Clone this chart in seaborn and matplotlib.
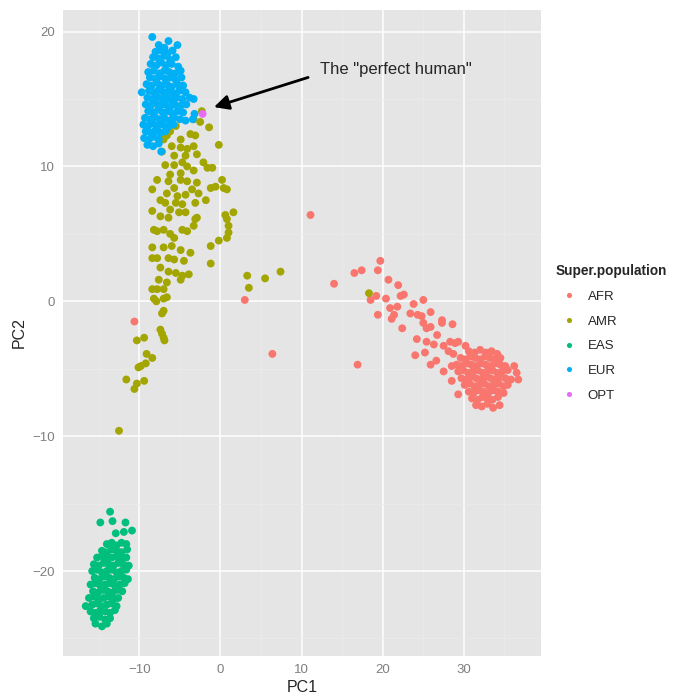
import numpy as np
import pandas as pd
import matplotlib
matplotlib.use("Agg")
import matplotlib.pyplot as plt
from matplotlib.ticker import MultipleLocator
import seaborn as sns

# ---- data (PC1, PC2) ----
afr_points = [
    (-10.6, -1.5), (3.0, 0.1), (6.4, -3.9), (11.1, 6.4), (14.0, 1.3), (16.9, -4.7),
    (16.5, 2.1), (17.4, 2.3), (19.7, 3.0), (19.4, 2.3), (20.7, 1.6), (21.9, 1.2),
    (18.5, 0.1), (19.2, 0.4), (20.4, 0.2), (22.2, 0.4), (22.6, 0.5), (25.0, 0.1),
    (19.4, -1.0), (20.9, -0.5), (21.8, -0.4), (21.4, -1.0), (21.1, -1.3), (23.8, -0.2),
    (23.4, -0.9), (24.3, -1.0), (24.8, -1.1), (25.9, -0.8), (22.4, -2.0), (25.0, -1.6),
    (25.4, -2.0), (25.9, -1.9), (27.3, -1.4), (27.3, -1.6), (28.6, -1.7), (24.2, -2.8),
    (25.4, -3.0), (26.7, -2.5), (26.3, -3.2), (24.0, -4.0), (25.2, -3.8), (25.9, -4.7),
    (26.6, -4.4), (27.5, -3.3), (28.3, -3.0), (28.9, -3.1), (29.3, -3.0), (30.2, -3.3),
    (28.1, -3.7), (28.7, -3.9), (27.5, -5.2), (28.5, -4.8), (28.5, -5.9), (29.3, -6.9),
    (30.6, -3.7), (31.3, -3.8), (32.0, -3.6), (32.7, -3.8), (33.4, -3.7), (34.1, -3.9),
    (29.6, -4.2), (30.2, -4.3), (30.8, -4.1), (31.4, -4.2), (32.0, -4.3), (32.6, -4.1),
    (33.2, -4.2), (33.8, -4.3), (34.5, -4.2),
    (29.1, -4.7), (29.7, -4.8), (30.3, -4.6), (30.9, -4.7), (31.5, -4.8), (32.1, -4.6),
    (32.7, -4.7), (33.3, -4.8), (33.9, -4.6), (34.5, -4.7), (35.1, -4.8),
    (29.3, -5.2), (29.9, -5.1), (30.5, -5.3), (31.1, -5.2), (31.7, -5.1), (32.3, -5.3),
    (32.9, -5.2), (33.5, -5.1), (34.1, -5.3), (34.7, -5.2), (35.4, -5.1),
    (29.7, -5.7), (30.3, -5.8), (30.9, -5.6), (31.5, -5.7), (32.1, -5.8), (32.7, -5.6),
    (33.3, -5.7), (33.9, -5.8), (34.5, -5.6), (35.1, -5.7), (35.8, -5.8),
    (30.1, -6.2), (30.7, -6.1), (31.3, -6.3), (31.9, -6.2), (32.5, -6.1), (33.1, -6.3),
    (33.7, -6.2), (34.3, -6.1), (34.9, -6.3), (35.4, -6.2),
    (30.6, -6.7), (31.2, -6.8), (31.8, -6.6), (32.4, -6.7), (33.0, -6.8), (33.6, -6.6),
    (34.2, -6.7), (34.9, -6.8),
    (31.0, -7.2), (31.7, -7.3), (32.3, -7.1), (32.9, -7.2), (33.5, -7.3), (34.2, -7.1),
    (31.5, -7.7), (32.2, -7.8), (32.9, -7.6), (33.6, -7.9), (34.4, -7.7),
    (36.5, -5.3), (36.2, -4.8), (36.7, -5.8),
]

amr_points = [
    (-2.3, 14.1), (-2.5, 13.3), (-1.4, 12.9), (-3.3, 13.5), (-3.7, 12.4), (-3.1, 12.3),
    (-0.2, 11.6), (-5.5, 13.0), (-6.2, 12.6), (-6.6, 12.3), (-7.0, 12.0), (-4.9, 12.0),
    (-7.2, 11.1), (-6.0, 11.5), (-4.9, 11.4), (-4.1, 11.3), (-3.3, 11.5), (-2.9, 10.9),
    (-5.7, 10.8), (-4.3, 10.8),
    (-6.8, 10.1), (-5.7, 10.1), (-4.7, 10.3), (-4.1, 10.0), (-2.1, 10.3), (-1.6, 9.9),
    (-1.0, 9.9), (-3.3, 9.7), (-4.9, 9.5), (-6.2, 9.4),
    (-7.8, 9.0), (-6.4, 8.9), (-4.9, 9.0), (-4.1, 8.9), (-2.9, 8.8), (0.2, 9.0),
    (0.4, 8.4), (-8.4, 8.3), (-5.7, 8.4), (-3.5, 8.3), (-1.2, 8.4), (-0.6, 8.5), (0.8, 8.3),
    (-6.6, 8.0), (-5.3, 7.8), (-4.3, 7.9), (-2.7, 8.0), (-1.8, 7.5), (-7.4, 7.5),
    (-6.8, 7.3), (-5.5, 7.3), (-4.7, 7.2), (-3.1, 7.3), (-8.4, 6.7), (-6.2, 6.8),
    (-5.1, 6.6), (-4.3, 6.6), (-7.4, 6.3), (-6.4, 6.2), (-2.9, 6.2), (0.6, 6.4),
    (1.6, 6.6), (0.8, 6.1),
    (-8.2, 5.3), (-7.8, 5.2), (-7.0, 5.3), (-6.2, 5.0), (-5.7, 4.7), (-4.7, 5.3),
    (-4.1, 5.2), (-3.3, 5.6), (-3.1, 6.1), (1.0, 5.6), (1.0, 5.1), (0.8, 4.7),
    (-8.4, 4.0), (-7.0, 4.0), (-6.0, 4.1), (-4.9, 3.8), (-3.7, 3.6), (-1.2, 4.1), (-0.2, 4.5),
    (-8.4, 3.2), (-7.8, 3.2), (-6.4, 3.2), (-5.7, 3.1), (-4.5, 3.0), (-1.2, 2.8),
    (-7.4, 2.5), (-6.4, 2.2), (-5.5, 2.1), (-4.7, 1.9), (-3.9, 2.0), (-7.6, 1.6),
    (-4.9, 1.6), (-6.6, 1.4),
    (3.3, 1.9), (5.5, 1.7), (7.4, 2.2), (3.5, 1.0), (18.3, 0.6),
    (-8.4, 0.9), (-7.8, 0.9), (-7.0, 0.9), (-8.2, 0.2), (-7.0, 0.2), (-6.6, 0.3),
    (-7.9, 0.0), (-7.2, -0.9), (-7.0, -0.7), (-7.4, -2.1), (-7.2, -2.4),
    (-7.0, -2.7), (-6.9, -2.9), (-9.4, -2.7), (-10.3, -2.9), (-9.1, -3.9), (-8.4, -4.2),
    (-10.1, -4.9), (-9.8, -4.8), (-9.2, -4.6), (-11.6, -5.8), (-10.3, -6.1),
    (-10.6, -6.5), (-9.4, -5.9), (-12.5, -9.6),
]

eas_points = [
    (-13.6, -15.6), (-14.8, -16.4), (-13.3, -16.3), (-11.7, -16.4), (-10.9, -17.0),
    (-12.9, -17.2), (-11.9, -17.1),
    (-14.0, -18.0), (-13.4, -17.9), (-12.8, -18.1), (-12.2, -17.9), (-11.6, -18.0),
    (-14.6, -18.5), (-14.0, -18.6), (-13.4, -18.4), (-12.8, -18.5), (-12.2, -18.6), (-11.5, -18.4),
    (-15.2, -19.0), (-14.6, -18.9), (-14.0, -19.1), (-13.4, -19.0), (-12.8, -18.9),
    (-12.2, -19.1), (-11.6, -19.0),
    (-15.6, -19.5), (-15.0, -19.6), (-14.4, -19.4), (-13.8, -19.5), (-13.2, -19.6),
    (-12.6, -19.4), (-12.0, -19.5), (-11.3, -19.6),
    (-15.8, -20.0), (-15.2, -19.9), (-14.6, -20.1), (-14.0, -20.0), (-13.4, -19.9),
    (-12.8, -20.1), (-12.2, -20.0), (-11.6, -19.9),
    (-15.5, -20.5), (-14.9, -20.6), (-14.3, -20.4), (-13.7, -20.5), (-13.1, -20.6),
    (-12.5, -20.4), (-11.9, -20.5), (-11.4, -20.6),
    (-16.0, -21.0), (-15.4, -20.9), (-14.8, -21.1), (-14.2, -21.0), (-13.6, -20.9),
    (-13.0, -21.1), (-12.4, -21.0), (-11.8, -20.9),
    (-15.7, -21.5), (-15.1, -21.6), (-14.5, -21.4), (-13.9, -21.5), (-13.3, -21.6),
    (-12.7, -21.4), (-12.1, -21.5),
    (-16.2, -22.0), (-15.6, -21.9), (-15.0, -22.1), (-14.4, -22.0), (-13.8, -21.9),
    (-13.2, -22.1), (-12.6, -22.0),
    (-16.6, -22.6), (-15.8, -22.5), (-15.2, -22.4), (-14.6, -22.6), (-14.0, -22.5),
    (-13.4, -22.4), (-12.8, -22.6),
    (-16.0, -23.0), (-15.4, -23.1), (-14.8, -22.9), (-14.2, -23.0), (-13.6, -23.1), (-13.0, -22.9),
    (-15.6, -23.5), (-14.9, -23.4), (-14.2, -23.6), (-13.6, -23.5),
    (-15.4, -23.9), (-14.6, -24.1), (-14.0, -23.9),
]

eur_points = [
    (-8.4, 19.6), (-6.4, 19.3), (-5.3, 19.0), (-7.6, 19.0), (-6.9, 18.8),
    (-8.0, 18.5), (-7.3, 18.6), (-6.5, 18.4), (-5.9, 18.6),
    (-8.3, 18.1), (-7.6, 18.0), (-6.9, 18.2), (-6.2, 17.9), (-5.5, 18.1),
    (-8.6, 17.6), (-7.9, 17.5), (-7.3, 17.7), (-6.7, 17.5), (-6.0, 17.6), (-5.2, 17.4),
    (-8.9, 17.0), (-8.2, 17.1), (-7.5, 16.9), (-6.9, 17.1), (-6.3, 17.0), (-5.6, 16.9), (-4.9, 17.1),
    (-8.7, 16.6), (-8.0, 16.5), (-7.4, 16.7), (-6.8, 16.5), (-6.1, 16.6), (-5.5, 16.4), (-4.8, 16.6),
    (-9.1, 16.1), (-8.5, 16.0), (-7.8, 16.2), (-7.2, 16.0), (-6.6, 16.1), (-6.0, 15.9),
    (-5.3, 16.1), (-4.6, 16.0),
    (-9.7, 15.5), (-8.8, 15.6), (-8.2, 15.5), (-7.6, 15.7), (-7.0, 15.5), (-6.4, 15.6),
    (-5.8, 15.4), (-5.1, 15.6), (-4.3, 15.5),
    (-9.0, 15.1), (-8.4, 15.0), (-7.8, 15.2), (-7.2, 15.0), (-6.6, 15.1), (-6.0, 14.9),
    (-5.4, 15.1), (-4.7, 15.0), (-3.8, 15.1), (-3.3, 15.0),
    (-9.2, 14.6), (-8.6, 14.5), (-8.0, 14.7), (-7.4, 14.5), (-6.8, 14.6), (-6.2, 14.4),
    (-5.6, 14.6), (-4.9, 14.5), (-4.2, 14.6),
    (-8.9, 14.1), (-8.3, 14.0), (-7.7, 14.2), (-7.1, 14.0), (-6.5, 14.1), (-5.9, 13.9),
    (-5.3, 14.1), (-4.6, 14.0), (-3.2, 13.9),
    (-9.3, 13.6), (-8.7, 13.5), (-8.1, 13.7), (-7.5, 13.5), (-6.9, 13.6), (-6.3, 13.4),
    (-5.7, 13.6), (-5.0, 13.5), (-4.3, 13.4), (-3.4, 13.5),
    (-9.5, 13.1), (-8.9, 13.0), (-8.3, 13.2), (-7.7, 13.0), (-7.1, 13.1), (-6.5, 12.9), (-5.8, 13.1),
    (-9.2, 12.6), (-8.6, 12.5), (-8.0, 12.7), (-7.4, 12.5), (-6.8, 12.6),
    (-9.4, 12.1), (-8.8, 12.0), (-8.2, 12.2), (-7.6, 12.0),
    (-9.0, 11.6), (-8.3, 11.5), (-7.6, 11.7), (-7.3, 11.1),
]

opt_points = [(-2.2, 13.9)]

populations = ["AFR", "AMR", "EAS", "EUR", "OPT"]
pop_colors = ["#F8766D", "#A3A500", "#00BF7D", "#00B0F6", "#E76BF3"]

x_ticks = [-10, 0, 10, 20, 30]
y_ticks = [-20, -10, 0, 10, 20]

# ---- long table ----
frames = []
for name, pts in zip(populations, [afr_points, amr_points, eas_points, eur_points, opt_points]):
    d = pd.DataFrame(pts, columns=["PC1", "PC2"])
    d["Super.population"] = name
    frames.append(d)
df = pd.concat(frames, ignore_index=True)

# ---- style (old ggplot grey) ----
sns.set_style("darkgrid", {
    "axes.facecolor": "#E5E5E5",
    "grid.color": "white",
    "axes.edgecolor": "none",
    "figure.facecolor": "white",
})
plt.rcParams["font.family"] = ["Liberation Sans", "DejaVu Sans"]

fig = plt.figure(figsize=(6.78, 6.99), dpi=100)
ax = fig.add_axes([63 / 678, 1 - 656 / 699, 478 / 678, 646 / 699])

sns.scatterplot(
    data=df, x="PC1", y="PC2", hue="Super.population",
    hue_order=populations, palette=dict(zip(populations, pop_colors)),
    s=32, linewidth=0, ax=ax,
)

ax.set_xlim(-19.4, 39.5)
ax.set_ylim(-26.3, 21.6)
ax.set_xticks(x_ticks)
ax.set_yticks(y_ticks)
ax.xaxis.set_minor_locator(MultipleLocator(5))
ax.yaxis.set_minor_locator(MultipleLocator(5))
ax.grid(which="major", color="white", linewidth=1.1)
ax.grid(which="minor", color="#ECECEC", linewidth=0.5)
ax.set_axisbelow(True)
ax.tick_params(axis="both", which="major", length=4, width=0.8, color="#7F7F7F",
               labelcolor="#7F7F7F", labelsize=9.5, pad=2)
ax.tick_params(axis="both", which="minor", length=0)
ax.set_xticklabels([str(t).replace("-", "\u2212") for t in x_ticks])
ax.set_yticklabels([str(t).replace("-", "\u2212") for t in y_ticks])
for sp in ax.spines.values():
    sp.set_visible(False)

ax.set_xlabel("PC1", fontsize=11.5, labelpad=3)
ax.set_ylabel("PC2", fontsize=11.5, labelpad=4)

# annotation
ax.text(12.3, 17.2, 'The "perfect human"', fontsize=12, ha="left", va="center")
ax.annotate("", xy=(-0.8, 14.4), xytext=(10.8, 16.6),
            arrowprops=dict(arrowstyle="-|>", color="black", lw=2, mutation_scale=22,
                            shrinkA=0, shrinkB=0))

sns.move_legend(ax, loc="upper left", bbox_to_anchor=(1.02, 0.615),
                frameon=False, title="Super.population", fontsize=9.5,
                title_fontsize=9.8, markerscale=0.65, handletextpad=0.4,
                labelspacing=0.95, borderaxespad=0)
leg = ax.get_legend()
leg.get_title().set_fontweight("bold")
leg._legend_box.align = "left"

fig.savefig("out.png", dpi=100)
